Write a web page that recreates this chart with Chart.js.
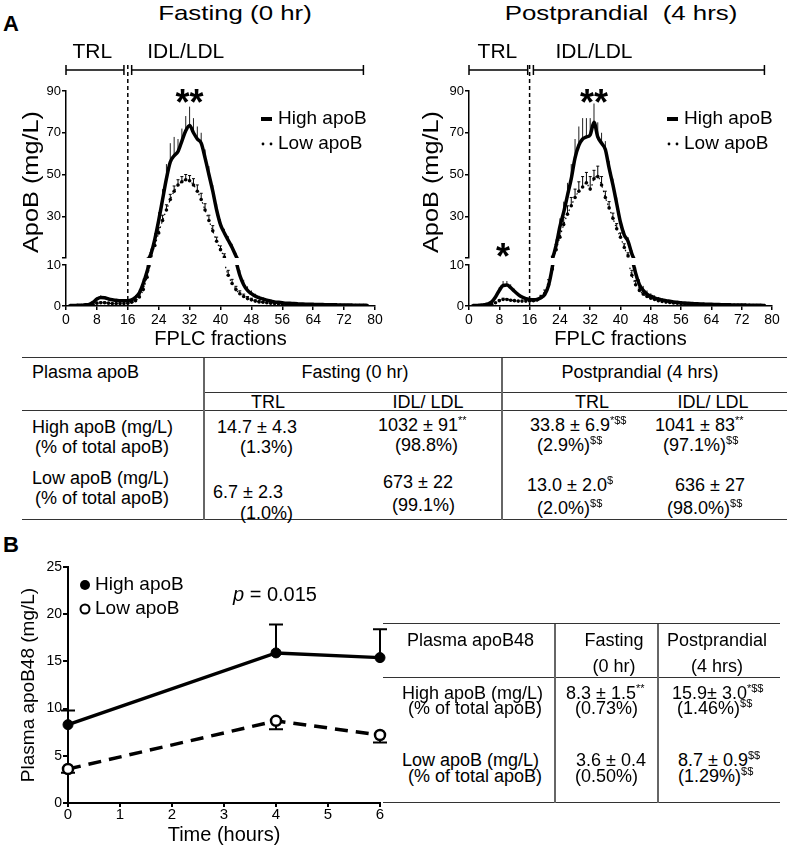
<!DOCTYPE html>
<html>
<head>
<meta charset="utf-8">
<title>ApoB FPLC profiles and plasma apoB48</title>
<script src="https://cdn.jsdelivr.net/npm/chart.js@4.4.1/dist/chart.umd.min.js"></script>
<style>
  body { margin: 0; background: #fff; }
  #page { position: relative; width: 788px; height: 849px; overflow: hidden; font-family: 'Liberation Sans', Arial, sans-serif; color: #000; }
  canvas { position: absolute; }
  .tx { position: absolute; white-space: nowrap; font-size: 18px; line-height: 18px; transform: translateY(-50%); }
  .tc { transform: translate(-50%, -50%); }
  .s { display: inline-block; font-size: 11px; line-height: 11px; position: relative; top: -7px; color: #000; filter: grayscale(100%); }
  .hl { position: absolute; height: 0; border-top: 1.5px solid #333; }
  .vl { position: absolute; width: 0; border-left: 2px solid #666; }
  .ttl { font-size: 21px; line-height: 21px; transform: translate(-50%, -50%) scaleX(1.23); }
  .panel { font-size: 22px; line-height: 22px; font-weight: bold; }
</style>
</head>
<body>
<div id="page">
  <div class="tx panel" style="left:3px;top:24px">A</div>
  <div class="tx ttl" style="left:235px;top:12px">Fasting (0 hr)</div>
  <div class="tx ttl" style="left:621px;top:12px">Postprandial&nbsp; (4 hrs)</div>

  <canvas id="cFast" width="390" height="358" style="left:0;top:0"></canvas>
  <canvas id="cPost" width="398" height="358" style="left:390px;top:0"></canvas>

  <!-- table A -->
  <div class="hl" style="left:22px;width:765px;top:357px"></div>
  <div class="hl" style="left:204px;width:583px;top:392px"></div>
  <div class="hl" style="left:22px;width:765px;top:410px"></div>
  <div class="hl" style="left:22px;width:765px;top:519px"></div>
  <div class="vl" style="left:203px;top:358px;height:162px"></div>
  <div class="vl" style="left:501px;top:358px;height:162px"></div>

  <div class="tx" style="left:32px;top:372px">Plasma apoB</div>
  <div class="tx tc" style="left:355px;top:372px">Fasting (0 hr)</div>
  <div class="tx tc" style="left:640px;top:372px">Postprandial (4 hrs)</div>
  <div class="tx tc" style="left:268px;top:402px">TRL</div>
  <div class="tx tc" style="left:428px;top:402px">IDL/ LDL</div>
  <div class="tx tc" style="left:592px;top:402px">TRL</div>
  <div class="tx tc" style="left:713px;top:402px">IDL/ LDL</div>
  <div class="tx" style="left:32px;top:427px">High apoB (mg/L)</div>
  <div class="tx" style="left:35px;top:447px">(% of total apoB)</div>
  <div class="tx" style="left:32px;top:478px">Low apoB (mg/L)</div>
  <div class="tx" style="left:35px;top:498px">(% of total apoB)</div>
  <div class="tx" style="left:217px;top:427px">14.7 ± 4.3</div>
  <div class="tx" style="left:240px;top:447px">(1.3%)</div>
  <div class="tx" style="left:213px;top:492px">6.7 ± 2.3</div>
  <div class="tx" style="left:240px;top:513px">(1.0%)</div>
  <div class="tx" style="left:378px;top:425px">1032 ± 91<span class="s">**</span></div>
  <div class="tx" style="left:395px;top:445px">(98.8%)</div>
  <div class="tx" style="left:383px;top:482px">673 ± 22</div>
  <div class="tx" style="left:392px;top:505px">(99.1%)</div>
  <div class="tx" style="left:530px;top:425px">33.8 ± 6.9<span class="s">*$$</span></div>
  <div class="tx" style="left:537px;top:445px">(2.9%)<span class="s">$$</span></div>
  <div class="tx" style="left:527px;top:485px">13.0 ± 2.0<span class="s">$</span></div>
  <div class="tx" style="left:537px;top:508px">(2.0%)<span class="s">$$</span></div>
  <div class="tx" style="left:655px;top:425px">1041 ± 83<span class="s">**</span></div>
  <div class="tx" style="left:663px;top:445px">(97.1%)<span class="s">$$</span></div>
  <div class="tx" style="left:675px;top:485px">636 ± 27</div>
  <div class="tx" style="left:667px;top:508px">(98.0%)<span class="s">$$</span></div>

  <div class="tx panel" style="left:3px;top:545px">B</div>
  <canvas id="cB48" width="400" height="309" style="left:0;top:540px"></canvas>
  <div class="tx tc" style="left:275px;top:594px;font-size:20px;line-height:20px"><i>p</i> = 0.015</div>

  <!-- table B -->
  <div class="hl" style="left:383px;width:397px;top:623px"></div>
  <div class="hl" style="left:383px;width:397px;top:677px"></div>
  <div class="hl" style="left:383px;width:397px;top:802px"></div>
  <div class="vl" style="left:554px;top:624px;height:179px"></div>
  <div class="vl" style="left:657px;top:624px;height:179px"></div>

  <div class="tx" style="left:407px;top:640px">Plasma apoB48</div>
  <div class="tx tc" style="left:614px;top:640px">Fasting</div>
  <div class="tx tc" style="left:614px;top:666px">(0 hr)</div>
  <div class="tx tc" style="left:717px;top:640px">Postprandial</div>
  <div class="tx tc" style="left:717px;top:666px">(4 hrs)</div>
  <div class="tx" style="left:402px;top:693px">High apoB (mg/L)</div>
  <div class="tx" style="left:408px;top:708px">(% of total apoB)</div>
  <div class="tx" style="left:402px;top:760px">Low apoB (mg/L)</div>
  <div class="tx" style="left:408px;top:776px">(% of total apoB)</div>
  <div class="tx" style="left:566px;top:693px">8.3 ± 1.5<span class="s">**</span></div>
  <div class="tx" style="left:575px;top:708px">(0.73%)</div>
  <div class="tx" style="left:672px;top:693px">15.9± 3.0<span class="s">*$$</span></div>
  <div class="tx" style="left:677px;top:708px">(1.46%)<span class="s">$$</span></div>
  <div class="tx" style="left:576px;top:760px">3.6 ± 0.4</div>
  <div class="tx" style="left:575px;top:776px">(0.50%)</div>
  <div class="tx" style="left:678px;top:760px">8.7 ± 0.9<span class="s">$$</span></div>
  <div class="tx" style="left:678px;top:776px">(1.29%)<span class="s">$$</span></div>
</div>

<script>
const FONT = "'Liberation Sans', Arial, sans-serif";

// FPLC fraction numbers (x)
const fractions = [
  1, 2, 3, 4, 5, 6, 7, 8, 9, 10, 11, 12, 13, 14, 15, 16, 17, 18, 19, 20,
  21, 22, 23, 24, 25, 26, 27, 28, 29, 30, 31, 32, 33, 34, 35, 36, 37, 38, 39, 40,
  41, 42, 43, 44, 45, 46, 47, 48, 49, 50, 51, 52, 53, 54, 55, 56, 57, 58, 59, 60,
  61, 62, 63, 64, 65, 66, 67, 68, 69, 70, 71, 72, 73, 74, 75, 76, 77, 78
];

// apoB (mg/L) per fraction, fasting
const fastHigh = [
  0.1, 0.1, 0.2, 0.2, 0.3, 0.4, 0.9, 1.7, 2.1, 2.0,
  1.7, 1.5, 1.4, 1.3, 1.3, 1.3, 1.5, 2.1, 3.2, 5.5,
  8.5, 12, 19, 28, 38, 48, 56, 59, 61, 66,
  71, 73.5, 70, 67, 65, 58, 50, 42, 33, 26,
  22, 18.5, 15, 11, 7.5, 5.2, 3.8, 3.0, 2.4, 2.0,
  1.7, 1.4, 1.2, 1.0, 0.9, 0.8, 0.7, 0.65, 0.6, 0.55,
  0.5, 0.45, 0.42, 0.4, 0.38, 0.35, 0.33, 0.3, 0.3, 0.28,
  0.26, 0.25, 0.24, 0.22, 0.2, 0.2, 0.18, 0.15
];
const fastHighSem = [
  0, 0, 0, 0, 0, 0, 0.2, 0.4, 0.5, 0.4,
  0.3, 0.2, 0.2, 0.2, 0.2, 0.2, 0.3, 0.5, 0.8, 1.2,
  1.8, 2.5, 3, 4, 5, 7, 9, 9, 6, 6,
  7, 9, 7, 6, 5, 4, 4, 3, 3, 2.5,
  2, 2, 1.8, 1.5, 1.3, 1.2, 1.0, 0.8, 0.6, 0.5,
  0.4, 0.3, 0.3, 0.2, 0, 0, 0, 0, 0, 0,
  0, 0, 0, 0, 0, 0, 0, 0, 0, 0,
  0, 0, 0, 0, 0, 0, 0, 0
];
const fastLow = [
  0.05, 0.05, 0.1, 0.1, 0.1, 0.2, 0.4, 0.7, 0.8, 0.8,
  0.7, 0.6, 0.6, 0.6, 0.6, 0.7, 0.9, 1.3, 2.2, 4.0,
  7, 11, 16, 22, 28, 33, 38, 42, 45, 46.5,
  47.5, 47, 45, 42, 38, 33, 28, 23, 18, 14,
  10.5, 7.5, 5.5, 4.0, 3.0, 2.3, 1.8, 1.5, 1.2, 1.0,
  0.9, 0.8, 0.7, 0.6, 0.55, 0.5, 0.45, 0.4, 0.37, 0.34,
  0.31, 0.28, 0.26, 0.24, 0.22, 0.2, 0.19, 0.18, 0.17, 0.16,
  0.15, 0.14, 0.13, 0.12, 0.11, 0.1, 0.1, 0.1
];
const fastLowSem = [
  0, 0, 0, 0, 0, 0, 0, 0.2, 0.2, 0.2,
  0, 0, 0, 0, 0, 0, 0, 0.3, 0.5, 0.8,
  1.2, 1.5, 2, 2.5, 2.5, 2.5, 2.5, 2.5, 2.5, 2.5,
  2.5, 2.5, 3, 3, 3, 3, 2.5, 2.5, 2, 1.8,
  1.5, 1.2, 1, 0.8, 0.7, 0.6, 0.5, 0.4, 0.3, 0.3,
  0.2, 0, 0, 0, 0, 0, 0, 0, 0, 0,
  0, 0, 0, 0, 0, 0, 0, 0, 0, 0,
  0, 0, 0, 0, 0, 0, 0, 0
];

// apoB (mg/L) per fraction, postprandial 4 hrs
const postHigh = [
  0.1, 0.1, 0.2, 0.3, 0.5, 1.0, 2.2, 3.8, 5.0, 5.1,
  4.5, 3.6, 2.8, 2.2, 1.8, 1.6, 1.5, 1.6, 2.0, 2.8,
  5.0, 9.5, 16, 25, 32, 40, 48, 58, 64, 67,
  68, 69, 75, 68, 65, 62, 53, 45, 36, 27,
  21, 18, 12, 8, 5.2, 3.8, 2.9, 2.4, 2.0, 1.7,
  1.5, 1.3, 1.15, 1.0, 0.9, 0.8, 0.72, 0.65, 0.6, 0.55,
  0.5, 0.46, 0.42, 0.4, 0.37, 0.34, 0.32, 0.3, 0.28, 0.26,
  0.25, 0.24, 0.22, 0.2, 0.2, 0.18, 0.16, 0.15
];
const postHighSem = [
  0, 0, 0, 0, 0, 0, 0.5, 0.8, 1.1, 1.0,
  0.8, 0.6, 0.4, 0.3, 0.3, 0.2, 0.3, 0.4, 0.6, 0.9,
  1.3, 2, 3, 4, 5, 6, 7, 9, 9, 10,
  9, 8, 9, 7, 5, 4, 3.5, 3, 3, 2.5,
  2, 2, 1.8, 1.5, 1.3, 1.1, 0.9, 0.7, 0.6, 0.5,
  0.4, 0.3, 0.3, 0.2, 0, 0, 0, 0, 0, 0,
  0, 0, 0, 0, 0, 0, 0, 0, 0, 0,
  0, 0, 0, 0, 0, 0, 0, 0
];
const postLow = [
  0.05, 0.05, 0.1, 0.1, 0.2, 0.4, 0.8, 1.3, 1.6, 1.6,
  1.4, 1.3, 1.2, 1.2, 1.2, 1.2, 1.3, 1.5, 2.1, 3.1,
  5.2, 9, 14, 20, 26, 31, 35, 39, 42, 44,
  46, 43, 48, 49, 45, 39, 34, 29, 24, 20,
  15, 11, 7.5, 5.2, 3.8, 2.9, 2.3, 1.9, 1.6, 1.3,
  1.1, 0.95, 0.85, 0.75, 0.68, 0.6, 0.55, 0.5, 0.45, 0.42,
  0.38, 0.35, 0.32, 0.3, 0.28, 0.26, 0.24, 0.22, 0.2, 0.19,
  0.18, 0.17, 0.16, 0.15, 0.14, 0.13, 0.12, 0.12
];
const postLowSem = [
  0, 0, 0, 0, 0, 0, 0, 0.2, 0.3, 0.2,
  0.2, 0, 0, 0, 0, 0, 0, 0.3, 0.5, 0.8,
  1.2, 1.8, 2.5, 3, 3.5, 4, 4, 4, 4.5, 5,
  5, 6, 4, 5, 4, 3, 3, 2.5, 2.5, 2,
  1.8, 1.5, 1.2, 1, 0.8, 0.6, 0.5, 0.4, 0.3, 0.3,
  0.2, 0, 0, 0, 0, 0, 0, 0, 0, 0,
  0, 0, 0, 0, 0, 0, 0, 0, 0, 0,
  0, 0, 0, 0, 0, 0, 0, 0
];

// broken y axis: lower part 0-10, upper part 10-90
const BREAK = 10;
const lowerRange = [0, 10];
const upperRange = [10, 90];

// fraction ranges of the TRL / IDL-LDL brackets, label positions, split line
const bracketLabels = ['TRL', 'IDL/LDL'];
const fastBrackets = [[0, 15], [17, 77]];
const postBrackets = [[0, 15.5], [17, 78]];
const fastLabelAt = [6.8, 31];
const postLabelAt = [7.5, 33];
const splitFraction = 16;
const fastStars = [{text: '**', x: 32, y: 88}];
const postStars = [{text: '**', x: 33, y: 88}, {text: '*', x: 9, y: 14.3}];

// panel B: plasma apoB48
const hours = [0, 4, 6];
const b48High = [8.3, 15.9, 15.4];
const b48HighSem = [1.5, 3.0, 3.0];
const b48Low = [3.6, 8.7, 7.2];
const b48LowSem = [0.4, 0.9, 0.8];

// clip each dataset to the part of the broken axis it belongs to
const axisClip = {
  id: 'axisClip',
  beforeDatasetDraw(chart, args) {
    const s = chart.scales[args.meta.yAxisID];
    const ca = chart.chartArea;
    const top = s.top <= ca.top + 1 ? s.top - 10 : s.top;
    const bottom = s.bottom >= ca.bottom - 1 ? s.bottom + 4 : s.bottom;
    const ctx = chart.ctx;
    ctx.save();
    ctx.beginPath();
    ctx.rect(ca.left - 6, top, ca.right - ca.left + 12, bottom - top);
    ctx.clip();
  },
  afterDatasetDraw(chart) {
    chart.ctx.restore();
  }
};

function brokenSegment(ctx, chart, px, v0, v1) {
  const up = chart.scales.yUp, lo = chart.scales.yLo;
  const parts = [];
  if (v1 <= BREAK) parts.push([lo, v0, v1]);
  else if (v0 >= BREAK) parts.push([up, v0, v1]);
  else { parts.push([lo, v0, BREAK]); parts.push([up, BREAK, v1]); }
  parts.forEach(([s, a, b]) => {
    ctx.beginPath();
    ctx.moveTo(px, s.getPixelForValue(a));
    ctx.lineTo(px, s.getPixelForValue(b));
    ctx.stroke();
  });
}

function yPix(chart, v) {
  return v >= BREAK ? chart.scales.yUp.getPixelForValue(v) : chart.scales.yLo.getPixelForValue(v);
}

function fplcChart(canvasId, high, highSem, low, lowSem, brackets, labelAt, stars, look) {
  const pts = arr => fractions.map((f, i) => ({x: f, y: arr[i]}));
  const highStyle = {
    label: 'High apoB', borderColor: '#000', borderWidth: 3.5, pointRadius: 0,
    cubicInterpolationMode: 'monotone', fill: false
  };
  const lowStyle = {
    label: 'Low apoB', borderColor: '#000', borderWidth: 1.2, borderDash: [1.5, 3],
    pointRadius: 1.8, pointBackgroundColor: '#000', pointBorderWidth: 0,
    cubicInterpolationMode: 'monotone', fill: false
  };

  const yAxis = (range, step, weight, stackWeight, show) => ({
    type: 'linear', position: 'left', stack: 'apob', stackWeight: stackWeight, weight: weight,
    min: range[0], max: range[1],
    afterFit: s => { s.width = look.axisW; },
    border: {display: show, color: '#000', width: 1.5},
    grid: {display: show, drawOnChartArea: false, tickLength: 4, color: '#000', lineWidth: 1.5},
    ticks: {
      display: show, stepSize: step, padding: 1, color: '#000', font: {size: 13, family: FONT},
      callback: v => (range[0] === BREAK && v === BREAK) ? '' : v
    }
  });

  const decor = {
    id: 'decor',
    beforeDatasetsDraw(chart) {
      const ctx = chart.ctx, x = chart.scales.x;
      ctx.save();
      ctx.strokeStyle = '#222';
      ctx.lineWidth = 1;
      fractions.forEach((f, i) => {
        if (highSem[i] > 0) brokenSegment(ctx, chart, x.getPixelForValue(f), high[i], high[i] + highSem[i]);
      });
      ctx.strokeStyle = '#000';
      fractions.forEach((f, i) => {
        if (lowSem[i] > 0) {
          const px = x.getPixelForValue(f);
          brokenSegment(ctx, chart, px, low[i], low[i] + lowSem[i]);
          const py = yPix(chart, low[i] + lowSem[i]);
          ctx.beginPath(); ctx.moveTo(px - 1.5, py); ctx.lineTo(px + 1.5, py); ctx.stroke();
        }
      });
      ctx.restore();
    },
    afterDraw(chart) {
      const {ctx, chartArea: ca} = chart;
      const x = chart.scales.x, yUp = chart.scales.yUp;
      ctx.save();
      ctx.strokeStyle = '#000';
      ctx.fillStyle = '#000';

      // fraction brackets
      const by = ca.top - 21;
      ctx.lineWidth = 1.5;
      brackets.forEach(([a, b]) => {
        const xa = x.getPixelForValue(a), xb = x.getPixelForValue(b);
        ctx.beginPath();
        ctx.moveTo(xa, by); ctx.lineTo(xb, by);
        ctx.moveTo(xa, by - 5); ctx.lineTo(xa, by + 5);
        ctx.moveTo(xb, by - 5); ctx.lineTo(xb, by + 5);
        ctx.stroke();
      });
      ctx.font = '21px ' + FONT;
      ctx.textAlign = 'center';
      ctx.textBaseline = 'middle';
      bracketLabels.forEach((t, i) => ctx.fillText(t, x.getPixelForValue(labelAt[i]), ca.top - 39));

      // TRL / IDL-LDL split
      const xs = x.getPixelForValue(splitFraction);
      ctx.setLineDash([4, 3]);
      ctx.beginPath();
      ctx.moveTo(xs, ca.top - 26);
      ctx.lineTo(xs, ca.bottom);
      ctx.stroke();
      ctx.setLineDash([]);

      // significance stars
      ctx.font = 'bold 36px ' + FONT;
      ctx.textBaseline = 'alphabetic';
      stars.forEach(s => ctx.fillText(s.text, x.getPixelForValue(s.x), yUp.getPixelForValue(s.y) + 20));

      // legend
      const lx = ca.left + look.legendX;
      ctx.font = '19px ' + FONT;
      ctx.textAlign = 'left';
      ctx.textBaseline = 'middle';
      ctx.lineWidth = 4;
      ctx.beginPath();
      ctx.moveTo(lx, ca.top + 28); ctx.lineTo(lx + 11, ca.top + 28);
      ctx.stroke();
      ctx.fillText('High apoB', lx + 17, ca.top + 28);
      [lx + 2, lx + 10].forEach(dx => {
        ctx.beginPath(); ctx.arc(dx, ca.top + 53, 1.4, 0, Math.PI * 2); ctx.fill();
      });
      ctx.fillText('Low apoB', lx + 17, ca.top + 53);

      // y axis title spanning both parts
      ctx.translate(ca.left - look.titleOff, ca.top + 91);
      ctx.rotate(-Math.PI / 2);
      ctx.scale(1.15, 1);
      ctx.font = '22px ' + FONT;
      ctx.textAlign = 'center';
      ctx.fillText('ApoB (mg/L)', 0, 0);
      ctx.restore();
    }
  };

  return new Chart(document.getElementById(canvasId), {
    type: 'line',
    data: {
      datasets: [
        {...highStyle, data: pts(high), yAxisID: 'yUp'},
        {...highStyle, data: pts(high), yAxisID: 'yLo'},
        {...lowStyle, data: pts(low), yAxisID: 'yUp'},
        {...lowStyle, data: pts(low), yAxisID: 'yLo'}
      ]
    },
    options: {
      responsive: false,
      animation: false,
      events: [],
      layout: {padding: {top: 91, right: look.padRight, left: 0, bottom: 0}},
      plugins: {legend: {display: false}, tooltip: {enabled: false}},
      scales: {
        x: {
          type: 'linear', min: 0, max: 80,
          afterFit: s => { s.height = 52; },
          border: {color: '#000', width: 1.5},
          grid: {drawOnChartArea: false, tickLength: 4, color: '#000', lineWidth: 1.5},
          ticks: {stepSize: 8, padding: 2, color: '#000', maxRotation: 0, autoSkip: false, font: {size: 14, family: FONT}},
          title: {display: true, text: 'FPLC fractions', color: '#000', font: {size: 20, family: FONT}, padding: {top: 0, bottom: 7}}
        },
        yLo: yAxis(lowerRange, 5, 1, 41, true),
        yGap: yAxis([0, 1], 1, 2, 7, false),
        yUp: yAxis(upperRange, 20, 3, 167, true)
      }
    },
    plugins: [axisClip, decor]
  });
}

fplcChart('cFast', fastHigh, fastHighSem, fastLow, fastLowSem, fastBrackets, fastLabelAt, fastStars,
  {axisW: 66, padRight: 15, legendX: 195, titleOff: 34});
fplcChart('cPost', postHigh, postHighSem, postLow, postLowSem, postBrackets, postLabelAt, postStars,
  {axisW: 79, padRight: 16, legendX: 198, titleOff: 37});

// panel B
const b48Decor = {
  id: 'b48Decor',
  beforeDatasetsDraw(chart) {
    const {ctx} = chart;
    const x = chart.scales.x, y = chart.scales.y;
    ctx.save();
    ctx.strokeStyle = '#000';
    ctx.lineWidth = 2;
    const bar = (h, v0, v1) => {
      const px = x.getPixelForValue(h), p1 = y.getPixelForValue(v1);
      ctx.beginPath();
      ctx.moveTo(px, y.getPixelForValue(v0)); ctx.lineTo(px, p1);
      ctx.moveTo(px - 7, p1); ctx.lineTo(px + 7, p1);
      ctx.stroke();
    };
    hours.forEach((h, i) => {
      bar(h, b48High[i], b48High[i] + b48HighSem[i]);
      bar(h, b48Low[i], b48Low[i] - b48LowSem[i]);
    });
    ctx.restore();
  },
  afterDraw(chart) {
    const {ctx, chartArea: ca} = chart;
    ctx.save();
    ctx.fillStyle = '#000';
    ctx.strokeStyle = '#000';
    ctx.beginPath(); ctx.arc(ca.left + 17, ca.top + 18, 5, 0, Math.PI * 2); ctx.fill();
    ctx.lineWidth = 2;
    ctx.beginPath(); ctx.arc(ca.left + 17, ca.top + 42, 4.5, 0, Math.PI * 2); ctx.stroke();
    ctx.font = '19px ' + FONT;
    ctx.textBaseline = 'middle';
    ctx.fillText('High apoB', ca.left + 27, ca.top + 18);
    ctx.fillText('Low apoB', ca.left + 27, ca.top + 42);
    ctx.restore();
  }
};

new Chart(document.getElementById('cB48'), {
  type: 'line',
  data: {
    datasets: [
      {
        label: 'High apoB', data: hours.map((h, i) => ({x: h, y: b48High[i]})),
        borderColor: '#000', borderWidth: 3.5, pointRadius: 5,
        pointBackgroundColor: '#000', pointBorderColor: '#000', pointBorderWidth: 1, clip: false
      },
      {
        label: 'Low apoB', data: hours.map((h, i) => ({x: h, y: b48Low[i]})),
        borderColor: '#000', borderWidth: 3.5, borderDash: [13, 8], pointRadius: 5,
        pointBackgroundColor: '#fff', pointBorderColor: '#000', pointBorderWidth: 2.5, clip: false
      }
    ]
  },
  options: {
    responsive: false,
    animation: false,
    events: [],
    layout: {padding: {top: 27, right: 20, left: 0, bottom: 0}},
    plugins: {legend: {display: false}, tooltip: {enabled: false}},
    scales: {
      x: {
        type: 'linear', min: 0, max: 6,
        afterFit: s => { s.height = 46; },
        border: {color: '#000', width: 2},
        grid: {drawOnChartArea: false, tickLength: 4, color: '#000', lineWidth: 2},
        ticks: {stepSize: 1, padding: -1, color: '#000', font: {size: 15, family: FONT}},
        title: {display: true, text: 'Time (hours)', color: '#000', font: {size: 20, family: FONT}, padding: {top: 0, bottom: 2}}
      },
      y: {
        min: 0, max: 25,
        afterFit: s => { s.width = 68; },
        border: {color: '#000', width: 2},
        grid: {drawOnChartArea: false, tickLength: 5, color: '#000', lineWidth: 2},
        ticks: {stepSize: 5, padding: 1, color: '#000', font: {size: 14, family: FONT}},
        title: {display: true, text: 'Plasma apoB48 (mg/L)', color: '#000', font: {size: 19, family: FONT}, padding: {top: 17, bottom: 0}}
      }
    }
  },
  plugins: [b48Decor]
});
</script>
</body>
</html>
